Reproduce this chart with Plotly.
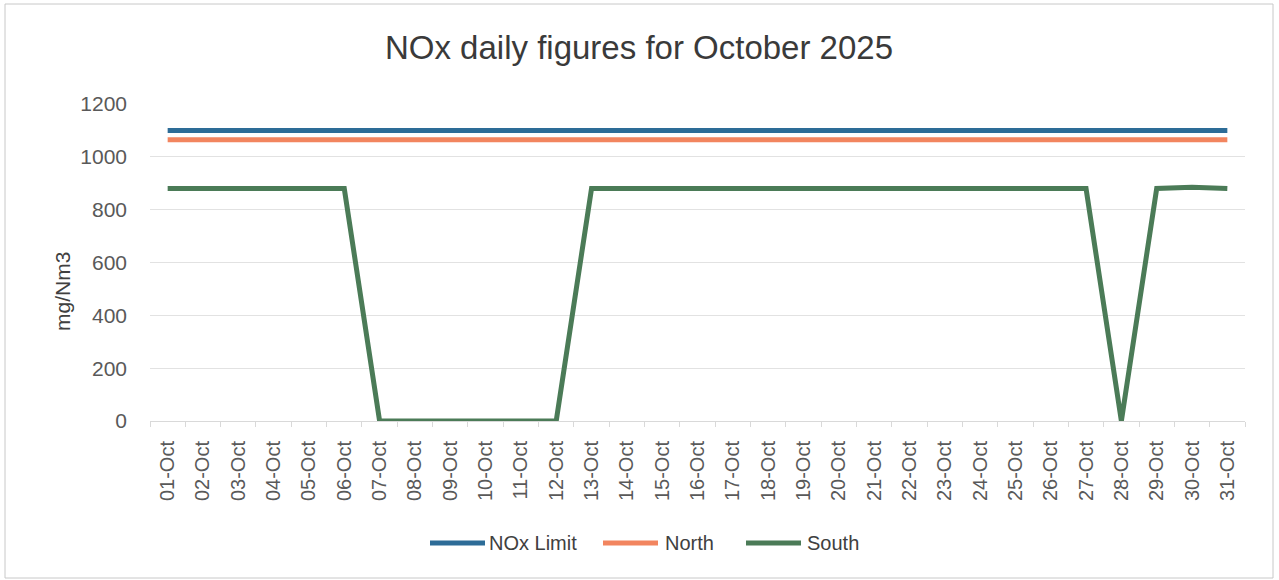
import plotly.graph_objects as go

# Daily NOx readings, October 2025 (mg/Nm3)
days = [f"{d:02d}-Oct" for d in range(1, 32)]
nox_limit = [1100] * 31
north = [1065] * 31
south = [
    880, 880, 880, 880, 880, 880,        # 01-06
    0, 0, 0, 0, 0, 0,                    # 07-12
    880, 880, 880, 880, 880, 880, 880,   # 13-19
    880, 880, 880, 880, 880, 880, 880,   # 20-26
    880, 0, 880, 885, 880,               # 27-31
]
y_ticks = [0, 200, 400, 600, 800, 1000, 1200]

series_names = ["NOx Limit", "North", "South"]
series_values = [nox_limit, north, south]
series_colors = ["#2D6C97", "#F2855F", "#4B7B57"]

W, H = 1279, 580
ML, MR, MT, MB = 150, 34, 104, 159
PW, PH = W - ML - MR, H - MT - MB


def px_x(x):
    return (x - ML) / PW


def px_y(y):
    return (H - MB - y) / PH


fig = go.Figure()
for name, vals, col in zip(series_names, series_values, series_colors):
    fig.add_trace(go.Scatter(
        x=days, y=vals, name=name, mode="lines",
        line=dict(color=col, width=5),
        showlegend=False,
    ))

font_family = "Liberation Sans, Arial, sans-serif"

# Legend key: a short line sample followed by the series name
legend_items = [(430, 487), (603, 663), (746, 805)]
legend_y = 543
shapes = [dict(
    type="rect", xref="paper", yref="paper",
    x0=px_x(5), x1=px_x(1273), y0=px_y(578), y1=px_y(4),
    line=dict(color="#C8C8C8", width=1), fillcolor="rgba(0,0,0,0)",
    layer="below",
)]
annotations = [dict(
    text="mg/Nm3", xref="paper", yref="paper",
    x=px_x(62), y=px_y(292), xanchor="center", yanchor="middle",
    textangle=-90, showarrow=False,
    font=dict(size=21, color="#404040", family=font_family),
)]
for (lx, tx), name, col in zip(legend_items, series_names, series_colors):
    shapes.append(dict(
        type="line", xref="paper", yref="paper",
        x0=px_x(lx), x1=px_x(lx + 55), y0=px_y(legend_y), y1=px_y(legend_y),
        line=dict(color=col, width=5),
    ))
    annotations.append(dict(
        text=name, xref="paper", yref="paper",
        x=px_x(tx), y=px_y(legend_y), xanchor="left", yanchor="middle",
        showarrow=False,
        font=dict(size=20, color="#404040", family=font_family),
    ))

fig.update_layout(
    width=W, height=H,
    margin=dict(l=ML, r=MR, t=MT, b=MB, pad=0),
    paper_bgcolor="white", plot_bgcolor="white",
    font=dict(family=font_family, color="#595959", size=20),
    title=dict(
        text="NOx daily figures for October 2025",
        x=px_x(639), xref="paper", xanchor="center",
        y=1 - 47 / H, yref="container", yanchor="middle",
        font=dict(size=33, color="#3A3A3A", family=font_family),
    ),
    showlegend=False,
    xaxis=dict(
        type="category", tickangle=-90, range=[-0.5, 30.5],
        showgrid=False, showline=True, linecolor="#D9D9D9", linewidth=1,
        ticks="outside", tickson="boundaries", ticklen=5, tickcolor="#D9D9D9",
        tickfont=dict(size=20, color="#595959"),
        ticklabelstandoff=11,
        fixedrange=True,
    ),
    yaxis=dict(
        range=[0, 1200], tickvals=y_ticks,
        showgrid=True, gridcolor="#E2E2E2", gridwidth=1,
        zeroline=False, showline=False,
        tickfont=dict(size=21, color="#595959"),
        ticklabelstandoff=22,
        fixedrange=True,
    ),
    shapes=shapes,
    annotations=annotations,
)

fig.write_html("out.html")
